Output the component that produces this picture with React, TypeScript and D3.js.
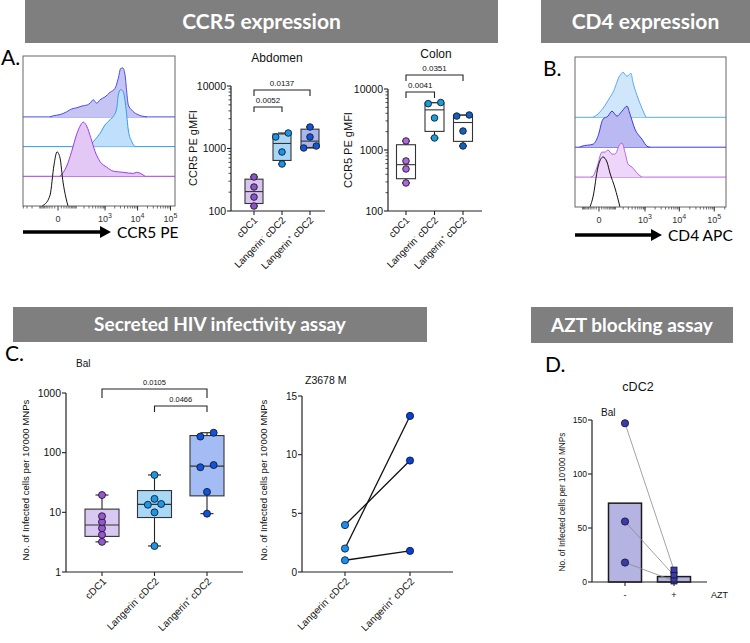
import React from "react";
import * as d3 from "d3";

const SANS = "'Liberation Sans', Arial, Helvetica, sans-serif";
const CAL = "Lato, 'Open Sans', 'DejaVu Sans', sans-serif";

// ---------------- Panel A: CCR5 PE histograms [fluorescence, % of mode] ----------------
const ccr5LangPos: [number, number][] = [[-30, 0], [-15, 2], [5.9, 4], [32.6, 9], [62.4, 14], [105, 16], [165, 19], [262, 21], [325, 24], [418, 30], [542, 24], [690, 30], [995, 35], [1430, 43], [2044, 50], [2582, 68], [3058, 85], [3525, 86], [4142, 74], [4672, 44], [5222, 21], [6630, 12], [9422, 5], [18974, 0]];
const ccr5LangNeg: [number, number][] = [[250, 0], [325, 3], [476, 12], [690, 23], [995, 38], [1430, 47], [1810, 53], [2305, 67], [2582, 91], [3058, 100], [3674, 96], [4446, 67], [5222, 29], [6630, 9], [8362, 0]];
const ccr5CDC1: [number, number][] = [[5.9, 0], [32.6, 18], [62.4, 44], [105, 74], [142, 88], [189, 95], [250, 88], [343, 68], [476, 44], [690, 26], [1127, 16], [1810, 9], [3674, 7], [7425, 5], [9422, 7], [16845, 0]];
const ccr5Unstained: [number, number][] = [[-80, 0], [-64.5, 2], [-29, 19], [-12.6, 72], [-2.8, 95], [5.9, 84], [16.3, 42], [29, 14], [39.4, 0]];

// ---------------- Panel B: CD4 APC histograms ----------------
const cd4LangNeg: [number, number][] = [[-25, 0], [-15.3, 2], [15.3, 18], [54, 40], [77, 50], [152, 84], [196, 90], [271, 82], [367, 88], [426, 70], [570, 44], [812, 18], [1072, 0]];
const cd4LangPos: [number, number][] = [[-130, 0], [-105, 2], [-24.6, 6], [-3.4, 22], [15.3, 56], [41, 62], [69, 72], [116, 62], [181, 72], [271, 82], [341, 66], [494, 36], [812, 16], [1148, 2], [1408, 0]];
const cd4CDC1: [number, number][] = [[-35, 0], [-24.6, 2], [-7.1, 20], [11.1, 50], [24.6, 50], [41, 54], [69, 46], [95, 46], [152, 66], [181, 68], [231, 50], [293, 26], [396, 20], [612, 6], [812, 0]];
const cd4Unstained: [number, number][] = [[-41, 0], [-24.6, 20], [-3.4, 80], [15.3, 100], [35.3, 90], [54, 68], [95, 38], [152, 0]];

const flowTickValues = [0, 1000, 10000, 100000];
const flowTickExp = ["", "3", "4", "5"];

// ---------------- Box plot categories ----------------
const cellTypes: [string, string, string][] = [["cDC1", "", ""], ["Langerin", "-", " cDC2"], ["Langerin", "+", " cDC2"]];

// Abdomen CCR5 gMFI
const abdCDC1 = [120, 167, 242, 350];
const abdLangNeg = [565, 879, 1528, 1770];
const abdLangPos = [1019, 1096, 1528, 2208];
const abdPValues = ["0.0052", "0.0137"];

// Colon CCR5 gMFI
const colCDC1 = [288, 489, 661, 1406];
const colLangNeg = [1575, 3350, 5750, 6000];
const colLangPos = [1165, 2046, 3600, 3750];
const colPValues = ["0.0041", "0.0351"];

// Panel C: Bal infected cells per 10'000 MNPs
const balCDC1 = [3.2, 4.2, 5.4, 6.9, 8.6, 19.5];
const balLangNeg = [2.73, 10.0, 13.4, 13.8, 16.8, 42.3];
const balLangPos = [9.5, 22, 57, 62, 186, 216];
const balPValues = ["0.0105", "0.0466"];

// Panel C: Z3678 M paired
const zLangNeg = [4, 2, 1];
const zLangPos = [9.5, 13.3, 1.8];

// Panel D: AZT
const aztCats = ["-", "+"];
const aztMinus = [147, 56, 18];
const aztPlus = [11, 6, 1];
const aztBars = [73, 5];

const headers: [string, number, number, number, number, number][] = [
  ["CCR5 expression", 25, 0, 473, 43, 21],
  ["CD4 expression", 541, 0, 209, 43, 21],
  ["Secreted HIV infectivity assay", 13, 307, 414, 35, 19],
  ["AZT blocking assay", 531, 307, 202, 36, 19],
];

function quartile(s: number[], p: number) {
  const n = s.length;
  const pos = (n + 1) * p;
  if (pos <= 1) return s[0];
  if (pos >= n) return s[n - 1];
  const lo = Math.floor(pos);
  return s[lo - 1] + (pos - lo) * (s[lo] - s[lo - 1]);
}

function spread(values: number[], ypx: (v: number) => number, thr: number, dx: number) {
  const idx = values.map((_, i) => i).sort((a, b) => values[a] - values[b]);
  const off = values.map(() => 0);
  let i = 0;
  while (i < idx.length) {
    let j = i;
    while (j + 1 < idx.length && Math.abs(ypx(values[idx[j + 1]]) - ypx(values[idx[j]])) < thr) j++;
    const k = j - i + 1;
    if (k > 1) for (let m = 0; m < k; m++) off[idx[i + m]] = -dx + (2 * dx * m) / (k - 1);
    i = j + 1;
  }
  return off;
}

function CatLabel({ x, y, lab, fs }: { x: number; y: number; lab: [string, string, string]; fs: number }) {
  return (
    <text transform={`translate(${x},${y}) rotate(-45)`} textAnchor="end" fontFamily={SANS} fontSize={fs} fill="#111">
      {lab[0]}
      {lab[1] ? (
        <>
          <tspan dy={-4} fontSize={fs * 0.6}>{lab[1]}</tspan>
          <tspan dy={4}>{lab[2]}</tspan>
        </>
      ) : null}
    </text>
  );
}

type Layer = { data: [number, number][]; fill: string; stroke: string; lane: number };

function FlowHist({ x0, x1, y0, y1, c, domain, laneStep, hPx, layers, tickLabY, arrowY, arrowEnd, label }: any) {
  const xs = d3.scaleSymlog().constant(c).domain(domain).range([x0, x1]);
  const hs = d3.scaleLinear().domain([0, 100]).range([0, hPx]);
  const minor: number[] = [];
  for (let e = 1; e <= 5; e++)
    for (let m = 1; m <= 9; m++) {
      const v = m * Math.pow(10, e);
      if (v <= domain[1]) minor.push(v);
      if (-v >= domain[0]) minor.push(-v);
    }
  const order = [...layers].sort((a: Layer, b: Layer) => b.lane - a.lane);
  return (
    <g>
      {order.map((L: Layer, i: number) => {
        const base = y1 - L.lane * laneStep;
        const area = d3.area<[number, number]>().x((d) => xs(d[0])).y0(base).y1((d) => base - hs(d[1])).curve(d3.curveMonotoneX);
        const line = d3.line<[number, number]>().x((d) => xs(d[0])).y((d) => base - hs(d[1])).curve(d3.curveMonotoneX);
        return (
          <g key={i}>
            {L.lane > 0 && <line x1={x0} x2={x1} y1={base} y2={base} stroke={L.stroke} strokeWidth={1} />}
            {L.fill !== "none" && <path d={area(L.data) || ""} fill={L.fill} />}
            <path d={line(L.data) || ""} fill="none" stroke={L.stroke} strokeWidth={1} />
          </g>
        );
      })}
      <rect x={x0} y={y0} width={x1 - x0} height={y1 - y0} fill="none" stroke="#666" strokeWidth={1} />
      {minor.map((v, i) => (
        <line key={i} x1={xs(v)} x2={xs(v)} y1={y1} y2={y1 + 2.5} stroke="#333" strokeWidth={0.7} />
      ))}
      {flowTickValues.map((v, i) => (
        <g key={"t" + i}>
          <line x1={xs(v)} x2={xs(v)} y1={y1} y2={y1 + 4.5} stroke="#333" strokeWidth={1} />
          <text x={xs(v)} y={tickLabY} textAnchor="middle" fontFamily={SANS} fontSize={9} fill="#333">
            {v === 0 ? "0" : "10"}
            {flowTickExp[i] ? <tspan dy={-4} fontSize={7}>{flowTickExp[i]}</tspan> : null}
          </text>
        </g>
      ))}
      <line x1={x0} x2={arrowEnd - 9} y1={arrowY} y2={arrowY} stroke="#000" strokeWidth={3.5} />
      <path d={`M${arrowEnd},${arrowY} L${arrowEnd - 11},${arrowY - 6} L${arrowEnd - 11},${arrowY + 6} Z`} fill="#000" />
      <text x={arrowEnd + 6} y={arrowY + 5.5} fontFamily={CAL} fontSize={15.5} fill="#000">{label}</text>
    </g>
  );
}

type Grp = { values: number[]; fill: string; dot: string };

function LogBox({ axisX, axisEnd, yTop, yBottom, domain, catRange, groups, boxW, capW, r, minorTicks, brackets, tickFs, labelOffset, labelFs }: any) {
  const y = d3.scaleLog().domain(domain).range([yBottom, yTop]);
  const x = d3.scalePoint<number>().domain(d3.range(groups.length)).range(catRange);
  const ticks = y.ticks();
  return (
    <g>
      {groups.map((g: Grp, gi: number) => {
        const s = [...g.values].sort((a, b) => a - b);
        const q1 = quartile(s, 0.25), med = quartile(s, 0.5), q3 = quartile(s, 0.75);
        const cx = x(gi)!;
        const off = spread(g.values, y, 4.5, r * 1.9);
        return (
          <g key={gi}>
            <line x1={cx} x2={cx} y1={y(s[0])} y2={y(q1)} stroke="#222" strokeWidth={1.1} />
            <line x1={cx} x2={cx} y1={y(q3)} y2={y(s[s.length - 1])} stroke="#222" strokeWidth={1.1} />
            <line x1={cx - capW / 2} x2={cx + capW / 2} y1={y(s[0])} y2={y(s[0])} stroke="#222" strokeWidth={1.1} />
            <line x1={cx - capW / 2} x2={cx + capW / 2} y1={y(s[s.length - 1])} y2={y(s[s.length - 1])} stroke="#222" strokeWidth={1.1} />
            <rect x={cx - boxW / 2} y={y(q3)} width={boxW} height={y(q1) - y(q3)} fill={g.fill} stroke="#333" strokeWidth={1.1} />
            <line x1={cx - boxW / 2} x2={cx + boxW / 2} y1={y(med)} y2={y(med)} stroke="#333" strokeWidth={1.1} />
            {g.values.map((v, i) => (
              <circle key={i} cx={cx + off[i]} cy={y(v)} r={r} fill={g.dot} stroke="#1a1a2a" strokeWidth={0.9} />
            ))}
          </g>
        );
      })}
      <line x1={axisX} x2={axisX} y1={yTop} y2={yBottom} stroke="#222" strokeWidth={1.2} />
      <line x1={axisX} x2={axisEnd} y1={yBottom} y2={yBottom} stroke="#222" strokeWidth={1.2} />
      {ticks.map((v, i) => {
        const major = Math.abs(Math.log10(v) - Math.round(Math.log10(v))) < 1e-9;
        if (!major && !minorTicks) return null;
        return (
          <g key={i}>
            <line x1={axisX - (major ? 4 : 2.5)} x2={axisX} y1={y(v)} y2={y(v)} stroke="#222" strokeWidth={major ? 1.1 : 0.8} />
            {major && (
              <text x={axisX - 5} y={y(v) + 3.8} textAnchor="end" fontFamily={SANS} fontSize={tickFs} fill="#111">{String(v)}</text>
            )}
          </g>
        );
      })}
      {groups.map((_: Grp, gi: number) => (
        <g key={"c" + gi}>
          <line x1={x(gi)} x2={x(gi)} y1={yBottom} y2={yBottom + 4} stroke="#222" strokeWidth={1.1} />
          <CatLabel x={x(gi)! + labelOffset[0]} y={yBottom + labelOffset[1]} lab={cellTypes[gi]} fs={labelFs} />
        </g>
      ))}
      {brackets.map((b: any, i: number) => (
        <g key={"b" + i}>
          <path d={`M${x(b.from)},${b.y + b.drop} V${b.y} H${x(b.to)} V${b.y + b.drop}`} fill="none" stroke="#222" strokeWidth={1.1} />
          <text x={(x(b.from)! + x(b.to)!) / 2} y={b.y - 4} textAnchor="middle" fontFamily={SANS} fontSize={b.fs} fill="#111">{b.label}</text>
        </g>
      ))}
    </g>
  );
}

function PairedPlot() {
  const axisX = 302, axisEnd = 453, yTop = 396, yBottom = 572;
  const y = d3.scaleLinear().domain([0, 15]).range([yBottom, yTop]);
  const x = d3.scalePoint<number>().domain([0, 1]).range([345, 410]);
  return (
    <g>
      {zLangNeg.map((v, i) => (
        <line key={i} x1={x(0)} y1={y(v)} x2={x(1)} y2={y(zLangPos[i])} stroke="#111" strokeWidth={1.3} />
      ))}
      {zLangNeg.map((v, i) => (
        <circle key={"a" + i} cx={x(0)} cy={y(v)} r={3.6} fill="#1b8ff0" stroke="#10243a" strokeWidth={0.9} />
      ))}
      {zLangPos.map((v, i) => (
        <circle key={"b" + i} cx={x(1)} cy={y(v)} r={3.6} fill="#0a3fd6" stroke="#0a1a40" strokeWidth={0.9} />
      ))}
      <line x1={axisX} x2={axisX} y1={yTop} y2={yBottom} stroke="#222" strokeWidth={1.2} />
      <line x1={axisX} x2={axisEnd} y1={yBottom} y2={yBottom} stroke="#222" strokeWidth={1.2} />
      {y.ticks(3).map((v, i) => (
        <g key={"t" + i}>
          <line x1={axisX - 4} x2={axisX} y1={y(v)} y2={y(v)} stroke="#222" strokeWidth={1.1} />
          <text x={axisX - 5} y={y(v) + 3.6} textAnchor="end" fontFamily={SANS} fontSize={10} fill="#111">{v}</text>
        </g>
      ))}
      {[1, 2].map((ci, i) => (
        <g key={"c" + i}>
          <line x1={x(i)} x2={x(i)} y1={yBottom} y2={yBottom + 4} stroke="#222" strokeWidth={1.1} />
          <CatLabel x={x(i)! + 5} y={yBottom + 10} lab={cellTypes[ci]} fs={10} />
        </g>
      ))}
      <text x={305} y={384} fontFamily={SANS} fontSize={10.5} fill="#111">Z3678 M</text>
      <text transform={`translate(267,480) rotate(-90)`} textAnchor="middle" fontFamily={SANS} fontSize={9.6} fill="#111">No. of Infected cells per 10'000 MNPs</text>
    </g>
  );
}

function AztPlot() {
  const axisX = 592, axisEnd = 707, yTop = 420, yBottom = 582;
  const y = d3.scaleLinear().domain([0, 150]).range([yBottom, yTop]);
  const x = d3.scalePoint<string>().domain(aztCats).range([625, 674]);
  const bw = 33;
  const sq = 6;
  return (
    <g>
      {aztBars.map((v, i) => (
        <rect key={i} x={x(aztCats[i])! - bw / 2} y={y(v)} width={bw} height={yBottom - y(v)} fill="#b5b3e2" stroke="#1a1a1a" strokeWidth={1.5} />
      ))}
      {aztMinus.map((v, i) => (
        <line key={"l" + i} x1={x("-")} y1={y(v)} x2={x("+")} y2={y(aztPlus[i])} stroke="#8a8a8a" strokeWidth={0.8} />
      ))}
      {aztMinus.map((v, i) => (
        <circle key={"m" + i} cx={x("-")} cy={y(v)} r={3.6} fill="#3c3ca8" stroke="#15153a" strokeWidth={0.9} />
      ))}
      {aztPlus.map((v, i) => (
        <rect key={"p" + i} x={x("+")! - sq / 2} y={y(v) - sq / 2} width={sq} height={sq} fill="#3c3ca8" stroke="#15153a" strokeWidth={0.9} />
      ))}
      <line x1={axisX} x2={axisX} y1={yTop} y2={yBottom} stroke="#222" strokeWidth={1.2} />
      <line x1={axisX} x2={axisEnd} y1={yBottom} y2={yBottom} stroke="#222" strokeWidth={1.2} />
      {y.ticks(3).map((v, i) => (
        <g key={"t" + i}>
          <line x1={axisX - 4} x2={axisX} y1={y(v)} y2={y(v)} stroke="#222" strokeWidth={1.1} />
          <text x={axisX - 5} y={y(v) + 3.2} textAnchor="end" fontFamily={SANS} fontSize={8.6} fill="#111">{v}</text>
        </g>
      ))}
      {aztCats.map((c, i) => (
        <g key={"c" + i}>
          <line x1={x(c)} x2={x(c)} y1={yBottom} y2={yBottom + 4} stroke="#222" strokeWidth={1.1} />
          <text x={x(c)} y={598} textAnchor="middle" fontFamily={SANS} fontSize={9} fill="#111">{c}</text>
        </g>
      ))}
      <text x={711} y={598} fontFamily={SANS} fontSize={9} fill="#111">AZT</text>
      <text x={601} y={416} fontFamily={SANS} fontSize={10} fill="#111">Bal</text>
      <text x={638} y={391} textAnchor="middle" fontFamily={SANS} fontSize={12.5} fill="#111">cDC2</text>
      <text transform={`translate(565,502) rotate(-90)`} textAnchor="middle" fontFamily={SANS} fontSize={8.3} fill="#111">No. of Infected cells per 10'000 MNPs</text>
    </g>
  );
}

export default function App() {
  return (
    <svg width={750} height={643} style={{ position: "absolute", left: 0, top: 0, background: "#fff" }}>
      {headers.map(([t, x, y, w, h, fs], i) => (
        <g key={i}>
          <rect x={x} y={y} width={w} height={h} fill="#7f7f7f" />
          <text x={x + w / 2} y={y + h / 2 + fs * 0.36} textAnchor="middle" fontFamily={CAL} fontWeight={700} fontSize={fs} fill="#fff">{t}</text>
        </g>
      ))}
      <text x={1} y={65} fontFamily={CAL} fontSize={21} fill="#000">A.</text>
      <text x={543} y={76} fontFamily={CAL} fontSize={21} fill="#000">B.</text>
      <text x={5} y={361} fontFamily={CAL} fontSize={21} fill="#000">C.</text>
      <text x={545} y={372} fontFamily={CAL} fontSize={21} fill="#000">D.</text>

      <FlowHist x0={23} x1={175} y0={56} y1={206} c={39} domain={[-410, 136800]} laneStep={29.7} hPx={57} tickLabY={222} arrowY={232} arrowEnd={111} label="CCR5 PE"
        layers={[
          { data: ccr5Unstained, fill: "none", stroke: "#111", lane: 0 },
          { data: ccr5CDC1, fill: "#e3c8f6", stroke: "#9a3fe0", lane: 1 },
          { data: ccr5LangNeg, fill: "#bfdffa", stroke: "#2e9bf0", lane: 2 },
          { data: ccr5LangPos, fill: "#c6c4f2", stroke: "#4b4be6", lane: 3 },
        ]} />

      <FlowHist x0={575} x1={726} y0={57} y1={207} c={51} domain={[-196, 217000]} laneStep={29.9} hPx={50} tickLabY={223} arrowY={235} arrowEnd={662} label="CD4 APC"
        layers={[
          { data: cd4Unstained, fill: "none", stroke: "#111", lane: 0 },
          { data: cd4CDC1, fill: "#edd6f9", stroke: "#b565e8", lane: 1 },
          { data: cd4LangPos, fill: "#bab9f1", stroke: "#3a3ae0", lane: 2 },
          { data: cd4LangNeg, fill: "#cfe6fb", stroke: "#5aaaf0", lane: 3 },
        ]} />

      <text x={277} y={62} textAnchor="middle" fontFamily={SANS} fontSize={12} fill="#111">Abdomen</text>
      <text transform={`translate(197,148) rotate(-90)`} textAnchor="middle" fontFamily={SANS} fontSize={11} fill="#111">CCR5 PE gMFI</text>
      <LogBox axisX={231} axisEnd={325} yTop={86} yBottom={211} domain={[100, 10000]} catRange={[254, 310]} boxW={18} capW={8} r={3.3} minorTicks={true} tickFs={10.5} labelOffset={[4, 10]} labelFs={9.8}
        groups={[
          { values: abdCDC1, fill: "#d8c4ee", dot: "#8f52c9" },
          { values: abdLangNeg, fill: "#a9d6f5", dot: "#1596e8" },
          { values: abdLangPos, fill: "#a9b6ee", dot: "#0f57d8" },
        ]}
        brackets={[
          { from: 0, to: 1, y: 107, drop: 5, label: abdPValues[0], fs: 8 },
          { from: 0, to: 2, y: 90, drop: 6, label: abdPValues[1], fs: 8 },
        ]} />

      <text x={436} y={58} textAnchor="middle" fontFamily={SANS} fontSize={12} fill="#111">Colon</text>
      <text transform={`translate(352,150) rotate(-90)`} textAnchor="middle" fontFamily={SANS} fontSize={11} fill="#111">CCR5 PE gMFI</text>
      <LogBox axisX={388} axisEnd={482} yTop={89} yBottom={211} domain={[100, 10000]} catRange={[406, 463]} boxW={19} capW={8} r={3.3} minorTicks={true} tickFs={10.5} labelOffset={[4, 10]} labelFs={9.8}
        groups={[
          { values: colCDC1, fill: "#ffffff", dot: "#b266d9" },
          { values: colLangNeg, fill: "#ffffff", dot: "#15a0dc" },
          { values: colLangPos, fill: "#ffffff", dot: "#0f62c0" },
        ]}
        brackets={[
          { from: 0, to: 1, y: 92, drop: 6, label: colPValues[0], fs: 8 },
          { from: 0, to: 2, y: 75, drop: 6, label: colPValues[1], fs: 8 },
        ]} />

      <text x={76} y={367} fontFamily={SANS} fontSize={10} fill="#111">Bal</text>
      <text transform={`translate(29,480) rotate(-90)`} textAnchor="middle" fontFamily={SANS} fontSize={9.6} fill="#111">No. of Infected cells per 10'000 MNPs</text>
      <LogBox axisX={66} axisEnd={243} yTop={393} yBottom={572} domain={[1, 1000]} catRange={[102, 207]} boxW={34} capW={13} r={3.5} minorTicks={false} tickFs={10.5} labelOffset={[5, 10]} labelFs={10}
        groups={[
          { values: balCDC1, fill: "#d9c8f2", dot: "#9a55d0" },
          { values: balLangNeg, fill: "#a8d8f6", dot: "#1a98e8" },
          { values: balLangPos, fill: "#a4bcf4", dot: "#0d55e0" },
        ]}
        brackets={[
          { from: 0, to: 2, y: 389, drop: 9, label: balPValues[0], fs: 7.5 },
          { from: 1, to: 2, y: 406, drop: 6, label: balPValues[1], fs: 7.5 },
        ]} />

      <PairedPlot />
      <AztPlot />
    </svg>
  );
}
